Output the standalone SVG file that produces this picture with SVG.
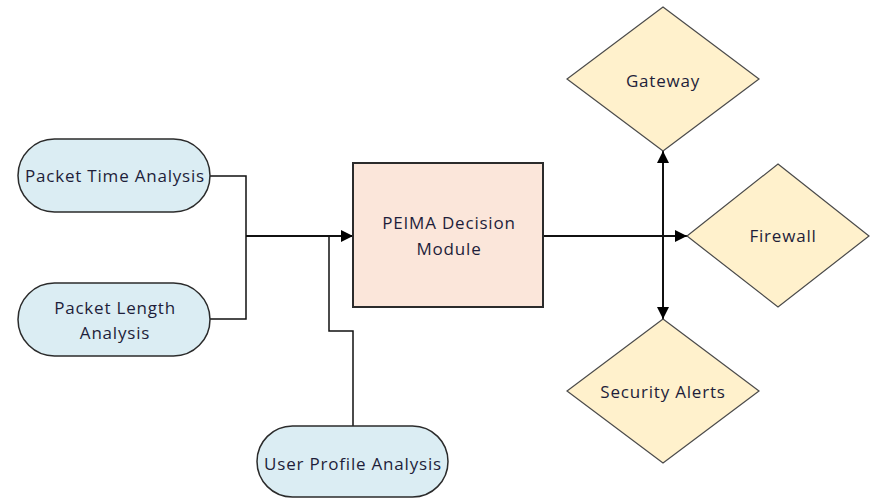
<svg xmlns="http://www.w3.org/2000/svg" width="871" height="500" viewBox="0 0 871 500">
  <style>
    .pill { fill: #dbedf3; stroke: #2b2b2b; stroke-width: 1.5; }
    .box { fill: #fbe6da; stroke: #2b2b2b; stroke-width: 2; }
    .dia { fill: #fff1cc; stroke: #4a4a4a; stroke-width: 1.2; }
    .lbl { font-family: "Open Sans", "Liberation Sans", sans-serif; font-size: 17px; letter-spacing: 0.8px; fill: #1e1e3a; text-anchor: middle; dominant-baseline: central; }
    .wire { fill: none; stroke: #111; stroke-width: 1.5; }
    .main { fill: none; stroke: #111; stroke-width: 2; }
  </style>
  <defs>
    <marker id="arrow" viewBox="0 0 12 12" refX="12" refY="6" markerWidth="12" markerHeight="12" markerUnits="userSpaceOnUse" orient="auto">
      <path d="M0,0 L12,6 L0,12 Z" fill="#000"/>
    </marker>
  </defs>
  <rect width="871" height="500" fill="#fff"/>

  <g id="connectors">
    <polyline class="wire" points="210,176 246,176 246,319 210,319"/>
    <line class="main" x1="246" y1="236" x2="353" y2="236" marker-end="url(#arrow)"/>
    <polyline class="wire" points="353,426 353,331 329,331 329,236"/>
    <line class="main" x1="543" y1="236" x2="687" y2="236" marker-end="url(#arrow)"/>
    <line class="main" x1="663" y1="236" x2="663" y2="151" marker-end="url(#arrow)"/>
    <line class="main" x1="663" y1="236" x2="663" y2="319" marker-end="url(#arrow)"/>
  </g>

  <g id="packet-time">
    <rect class="pill" x="18" y="139" width="192" height="73" rx="36.5"/>
    <text class="lbl" x="115" y="175">Packet Time Analysis</text>
  </g>
  <g id="packet-length">
    <rect class="pill" x="18" y="283" width="192" height="73" rx="36.5"/>
    <text class="lbl" x="115" y="307">Packet Length</text>
    <text class="lbl" x="115" y="332">Analysis</text>
  </g>
  <g id="user-profile">
    <rect class="pill" x="257" y="426" width="191" height="71" rx="35.5"/>
    <text class="lbl" x="353" y="463">User Profile Analysis</text>
  </g>
  <g id="peima">
    <rect class="box" x="353" y="163" width="190" height="144"/>
    <text class="lbl" x="449" y="222">PEIMA Decision</text>
    <text class="lbl" x="449" y="248">Module</text>
  </g>
  <g id="gateway">
    <polygon class="dia" points="663,7 759,79 663,151 567,79"/>
    <text class="lbl" x="663" y="80">Gateway</text>
  </g>
  <g id="firewall">
    <polygon class="dia" points="778,164 869,236 778,307 687,236"/>
    <text class="lbl" x="783" y="235">Firewall</text>
  </g>
  <g id="security-alerts">
    <polygon class="dia" points="663,319 759,391 663,463 567,391"/>
    <text class="lbl" x="663" y="391">Security Alerts</text>
  </g>
</svg>
